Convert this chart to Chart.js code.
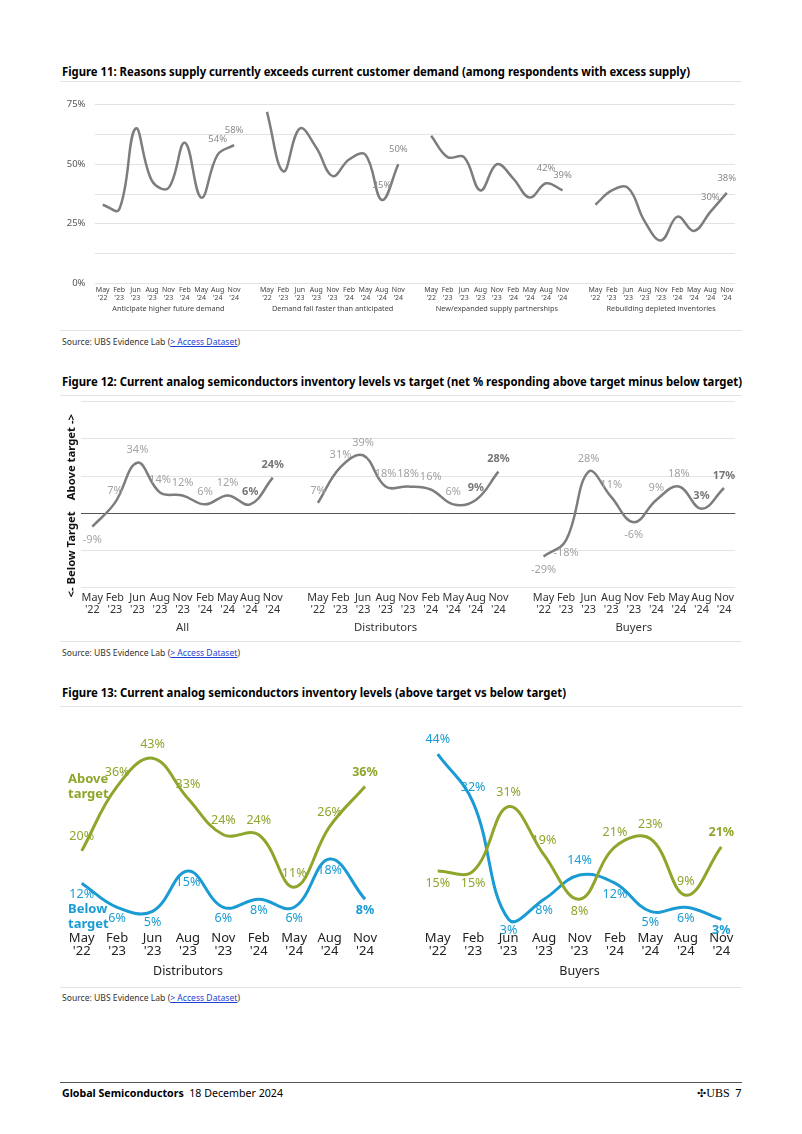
<!DOCTYPE html>
<html>
<head>
<meta charset="utf-8">
<script src="https://cdn.jsdelivr.net/npm/chart.js@4.4.1/dist/chart.umd.min.js"></script>
<style>
  body { margin: 0; background: #fff; font-family: 'Noto Sans', sans-serif; }
  #page { position: relative; width: 802px; height: 1134px; overflow: hidden; }
  .abs { position: absolute; white-space: nowrap; transform-origin: left center; }
  .title { left: 62px; font-weight: bold; font-size: 12.5px; line-height: 16px; color: #000; }
  .src { left: 62px; font-size: 8.6px; line-height: 12px; color: #333; }
  .src a { color: #1f3fcf; text-decoration: underline; }
  .rule { position: absolute; left: 60px; width: 682px; height: 1px; background: #e3e3e3; }
  .legend { left: 68px; font-weight: bold; font-size: 13px; line-height: 15px; }
  canvas { position: absolute; }
</style>
</head>
<body>
<div id="page">
  <div class="abs title" id="t11" style="top:63.7px">Figure 11: Reasons supply currently exceeds current customer demand (among respondents with excess supply)</div>
  <div class="rule" style="top:81px"></div>
  <canvas id="fig11" width="690" height="232" style="left:55px;top:90px"></canvas>
  <div class="rule" style="top:330px"></div>
  <div class="abs src" id="s11" style="top:335.7px">Source: UBS Evidence Lab (<a>&gt; Access Dataset</a>)</div>

  <div class="abs title" id="t12" style="top:373.7px">Figure 12: Current analog semiconductors inventory levels vs target (net % responding above target minus below target)</div>
  <div class="rule" style="top:394.5px"></div>
  <canvas id="fig12" width="690" height="240" style="left:55px;top:398px"></canvas>
  <div class="rule" style="top:640.5px"></div>
  <div class="abs src" id="s12" style="top:646.7px">Source: UBS Evidence Lab (<a>&gt; Access Dataset</a>)</div>

  <div class="abs title" id="t13" style="top:685.3px">Figure 13: Current analog semiconductors inventory levels (above target vs below target)</div>
  <div class="rule" style="top:705.5px"></div>
  <canvas id="fig13a" width="360" height="265" style="left:40px;top:715px"></canvas>
  <canvas id="fig13b" width="350" height="265" style="left:400px;top:715px"></canvas>
  <div class="abs legend" style="top:770.8px;color:#8ea62b">Above<br>target</div>
  <div class="abs legend" style="top:900.8px;color:#1a9bd3">Below<br>target</div>
  <div class="rule" style="top:986.5px"></div>
  <div class="abs src" id="s13" style="top:991.7px">Source: UBS Evidence Lab (<a>&gt; Access Dataset</a>)</div>

  <div style="position:absolute;left:60px;top:1082px;width:682px;height:1px;background:#555"></div>
  <div class="abs" id="foot" style="left:62px;top:1086px;font-size:11px;line-height:14px;color:#000"><b>Global Semiconductors</b>&nbsp; 18 December 2024</div>
  <div class="abs" style="left:697px;top:1086px;font-size:11px;line-height:14px;color:#000"><span style="font-family:'DejaVu Sans';font-size:11px">&#x2723;</span><span style="font-family:'Liberation Serif';font-size:12px">UBS</span>&nbsp; 7</div>
</div>

<script>
// --- Data ---
const months = [['May', "'22"], ['Feb', "'23"], ['Jun', "'23"], ['Aug', "'23"], ['Nov', "'23"],
                ['Feb', "'24"], ['May', "'24"], ['Aug', "'24"], ['Nov', "'24"]];

// Figure 11 (share of respondents, %)
const fig11Groups = ['Anticipate higher future demand', 'Demand fall faster than anticipated',
                     'New/expanded supply partnerships', 'Rebuilding depleted inventories'];
const higherDemand = [33, 31, 65, 43, 40, 59, 36, 54, 58];
const demandFell   = [72, 47, 65, 57, 45, 52, 54, 35, 50];
const newPartners  = [62, 53, 53, 39, 50, 44, 36, 42, 39];
const rebuilding   = [33, 39, 40, 26, 18, 28, 22, 30, 38];
const fig11Ticks   = [0, 25, 50, 75];

// Figure 12 (net % above minus below target)
const fig12Groups  = ['All', 'Distributors', 'Buyers'];
const allResp      = [-9, 7, 34, 14, 12, 6, 12, 6, 24];
const distributors = [7, 31, 39, 18, 18, 16, 6, 9, 28];
const buyers       = [-29, -18, 28, 11, -6, 9, 18, 3, 17];

// Figure 13 (above target vs below target, %)
const distAbove = [20, 36, 43, 33, 24, 24, 11, 26, 36];
const distBelow = [12, 6, 5, 15, 6, 8, 6, 18, 8];
const buyAbove  = [15, 15, 31, 19, 8, 21, 23, 9, 21];
const buyBelow  = [44, 32, 3, 8, 14, 12, 5, 6, 3];

// --- Styles ---
const FONT = "'Noto Sans', sans-serif";
const GREY_LINE = '#7d7d7d';
const GREEN = '#8ea62b';
const BLUE = '#1a9bd3';
// label side for figure 13 buyers (above / below the point)
const buyAboveSide = ['below', 'below', 'above', 'above', 'below', 'above', 'above', 'above', 'above'];
const buyBelowSide = ['above', 'above', 'below', 'below', 'above', 'below', 'below', 'below', 'below'];

// --- Helpers ---
function joinGroups(groups, filler) {
    return groups.reduce((acc, g, k) => k ? acc.concat([filler], g) : acc.concat(g), []);
}

function labelPlugin(specs) {
    return {
        id: 'pointLabels',
        afterDatasetsDraw(chart) {
            const ctx = chart.ctx;
            specs.forEach((s, di) => {
                const data = chart.data.datasets[di].data;
                chart.getDatasetMeta(di).data.forEach((pt, i) => {
                    if (data[i] == null || !s.show(i)) return;
                    const bold = s.bold(i);
                    ctx.save();
                    ctx.font = (bold ? 'bold ' : '') + s.size + 'px ' + FONT;
                    ctx.fillStyle = bold ? s.boldColor : s.color;
                    ctx.textAlign = 'center';
                    ctx.textBaseline = 'middle';
                    const dy = s.side(i) === 'below' ? s.below : -s.above;
                    ctx.fillText(data[i] + '%', pt.x, pt.y + dy);
                    ctx.restore();
                });
            });
        }
    };
}

function groupLabelPlugin(names, at, y, size, color) {
    return {
        id: 'groupLabels',
        afterDraw(chart) {
            const ctx = chart.ctx, xs = chart.scales.x;
            ctx.save();
            ctx.font = size + 'px ' + FONT;
            ctx.fillStyle = color;
            ctx.textAlign = 'center';
            ctx.textBaseline = 'middle';
            names.forEach((n, k) => ctx.fillText(n, xs.getPixelForValue(at[k]), y));
            ctx.restore();
        }
    };
}

function baseOptions(pad, yWidth, xHeight) {
    return {
        responsive: false,
        animation: false,
        devicePixelRatio: 1,
        layout: { padding: { top: pad.top, right: pad.right, left: 0, bottom: 0 } },
        plugins: { legend: { display: false }, tooltip: { enabled: false } },
        elements: { point: { radius: 0 }, line: { tension: 0.4 } },
        scales: {
            x: {
                type: 'category', offset: true,
                grid: { display: false, drawTicks: false },
                border: { display: false },
                ticks: { autoSkip: false, maxRotation: 0 },
                afterFit: s => { s.height = xHeight; }
            },
            y: {
                grid: { display: false, drawTicks: false },
                border: { display: false },
                ticks: { display: false },
                afterFit: s => { s.width = yWidth; }
            }
        }
    };
}

// --- Figure 11 ---
function drawFig11() {
    const labels = joinGroups([months, months, months, months], '');
    const series = joinGroups([higherDemand, demandFell, newPartners, rebuilding], null);
    const opts = baseOptions({ top: 11.7, right: 10 }, 39.5, 38.7);
    Object.assign(opts.scales.x.ticks, { font: { family: FONT, size: 7, lineHeight: 1.2 }, color: '#444', padding: 2.5 });
    opts.scales.y = Object.assign(opts.scales.y, {
        min: 0, max: 75,
        grid: { display: true, drawTicks: false, color: '#e2e2e2' },
        ticks: {
            display: true, stepSize: 12.5, padding: 9, color: '#555',
            font: { family: FONT, size: 9.5 },
            callback: v => fig11Ticks.includes(v) ? v + '%' : ''
        }
    });
    new Chart(document.getElementById('fig11'), {
        type: 'line',
        data: { labels, datasets: [{ data: series, borderColor: GREY_LINE, borderWidth: 2.5, spanGaps: false }] },
        options: opts,
        plugins: [
            labelPlugin([{ show: i => i % 10 >= 7, bold: () => false, side: () => 'above',
                           above: 15, below: 0, size: 9.5, color: '#8a8a8a', boldColor: '#8a8a8a' }]),
            groupLabelPlugin(fig11Groups, [4, 14, 24, 34], 219, 7.3, '#444')
        ]
    });
}

// --- Figure 12 ---
function drawFig12() {
    const labels = joinGroups([months, months, months], '');
    const series = joinGroups([allResp, distributors, buyers], null);
    const opts = baseOptions({ top: 3.7, right: 9.7 }, 26, 50.3);
    Object.assign(opts.scales.x.ticks, { font: { family: FONT, size: 10.8, lineHeight: 1.14 }, color: '#333', padding: 3.8 });
    Object.assign(opts.scales.y, {
        min: -50, max: 75,
        grid: { display: true, drawTicks: false, color: c => c.tick.value === 0 ? '#555' : '#e4e4e4' },
        ticks: { display: false, stepSize: 25 }
    });
    const axisTitle = {
        id: 'axisTitle',
        afterDraw(chart) {
            const ctx = chart.ctx, y0 = chart.scales.y.getPixelForValue(0);
            [['Above target ->', 13, 'left'], ['<- Below Target', 2, 'right']].forEach(([txt, up, align]) => {
                ctx.save();
                ctx.font = 'bold 11.3px ' + FONT;
                ctx.fillStyle = '#111';
                ctx.textBaseline = 'middle';
                ctx.translate(16.5, y0 - up);
                ctx.rotate(-Math.PI / 2);
                ctx.textAlign = align;
                ctx.fillText(txt, 0, 0);
                ctx.restore();
            });
        }
    };
    new Chart(document.getElementById('fig12'), {
        type: 'line',
        data: { labels, datasets: [{ data: series, borderColor: GREY_LINE, borderWidth: 2.5 }] },
        options: opts,
        plugins: [
            labelPlugin([{ show: () => true, bold: i => i % 10 >= 7, side: i => series[i] < 0 ? 'below' : 'above',
                           above: 12.5, below: 13, size: 11, color: '#a3a3a3', boldColor: '#777' }]),
            groupLabelPlugin(fig12Groups, [4, 13, 24], 229.3, 11.3, '#333'),
            axisTitle
        ]
    });
}

// --- Figure 13 ---
function drawFig13(id, above, below, aboveSide, belowSide, name, nameAt, yWidth, padRight) {
    const opts = baseOptions({ top: 15, right: padRight }, yWidth, 48.5);
    Object.assign(opts.scales.x.ticks, { font: { family: FONT, size: 13, lineHeight: 1.03 }, color: '#222', padding: 0 });
    Object.assign(opts.scales.y, { min: 0, max: 50 });
    const last = above.length - 1;
    new Chart(document.getElementById(id), {
        type: 'line',
        data: {
            labels: months,
            datasets: [
                { data: above, borderColor: GREEN, borderWidth: 3 },
                { data: below, borderColor: BLUE, borderWidth: 3 }
            ]
        },
        options: opts,
        plugins: [
            labelPlugin([
                { show: () => true, bold: i => i === last, side: i => aboveSide[i],
                  above: 14, below: 12.5, size: 12.5, color: GREEN, boldColor: GREEN },
                { show: () => true, bold: i => i === last, side: i => belowSide[i],
                  above: 15, below: 11.5, size: 12.5, color: BLUE, boldColor: BLUE }
            ]),
            groupLabelPlugin([name], [nameAt], 256.7, 12.5, '#222')
        ]
    });
}

function fitText(id, w) {
    const el = document.getElementById(id);
    el.style.transform = 'scaleX(' + (w / el.getBoundingClientRect().width) + ')';
}

document.addEventListener('DOMContentLoaded', () => {
    fitText('t11', 628);
    fitText('t12', 680);
    fitText('t13', 504);
    fitText('s11', 178);
    fitText('s12', 178);
    fitText('s13', 178);
    fitText('foot', 221);
    drawFig11();
    drawFig12();
    drawFig13('fig13a', distAbove, distBelow, distAbove.map(() => 'above'), distBelow.map(() => 'below'),
              'Distributors', 3, 24, 17.3);
    drawFig13('fig13b', buyAbove, buyBelow, buyAboveSide, buyBelowSide, 'Buyers', 4, 20, 11);
});
</script>
</body>
</html>
